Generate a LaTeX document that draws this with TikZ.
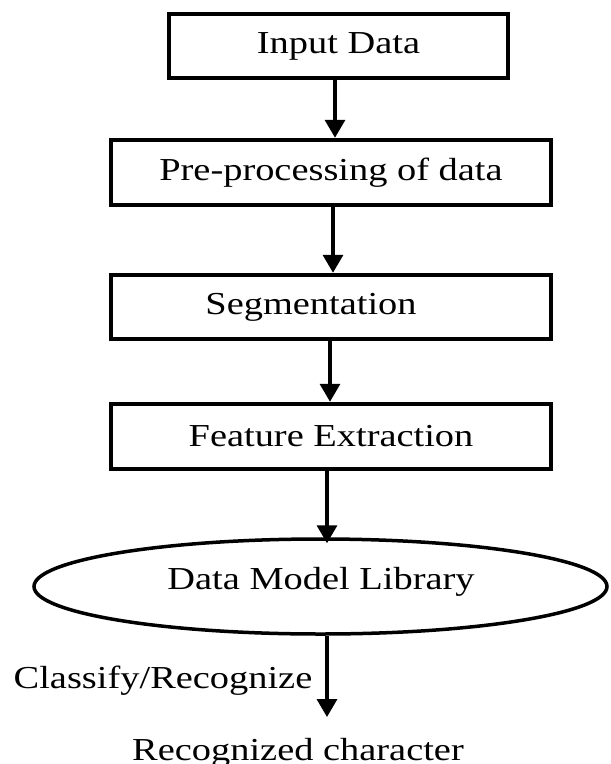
\documentclass[tikz,border=0pt]{standalone}
\usepackage{fontspec}
\setmainfont[FakeStretch=1.2]{Liberation Serif}
\usetikzlibrary{arrows.meta,shapes.geometric}
\tikzset{
  box/.style={draw=black, line width=4.5pt, rectangle, inner sep=0pt, font=\fontsize{32}{38}\selectfont},
  oval/.style={draw=black, line width=3.5pt, ellipse, inner sep=0pt},
  txt/.style={inner sep=0pt, font=\fontsize{32}{38}\selectfont},
  arr/.style={line width=3.5pt, -{Triangle[width=20pt,length=18pt]}},
}
\begin{document}
\begin{tikzpicture}[x=1pt,y=-1pt]
\useasboundingbox (0,0) rectangle (611,764);
\node[box, minimum width=339pt, minimum height=64pt] (in) at (338.5,46) {Input Data};
\node[box, minimum width=440pt, minimum height=65pt] (pre) at (331,172.5) {Pre-processing of data};
\node[box, minimum width=440pt, minimum height=64pt] (seg) at (331,307) {\hspace*{-40pt}Segmentation};
\node[box, minimum width=440pt, minimum height=65pt] (fe) at (331,436.5) {Feature Extraction};
\node[oval, minimum width=573pt, minimum height=95pt] (lib) at (320.5,586.5) {};
\node[txt] (libt) at (321,582) {Data Model Library};
\node[txt] (cls) at (163,681) {Classify/Recognize};
\node[txt] (out) at (298,753) {Recognized character};
\coordinate (tipend) at (327,717);
\draw[arr] ([xshift=-3.5pt]in.south) -- ([xshift=-3.5pt]in.south |- pre.north);
\draw[arr] ([xshift=2pt]pre.south) -- ([xshift=2pt]pre.south |- seg.north);
\draw[arr] ([xshift=-1pt]seg.south) -- ([xshift=-1pt]seg.south |- fe.north);
\draw[arr] ([xshift=-4pt]fe.south) -- ([xshift=-4pt,yshift=-6pt]fe.south |- lib.north);
\draw[arr] (lib.south -| tipend) -- (tipend);
\end{tikzpicture}
\end{document}
